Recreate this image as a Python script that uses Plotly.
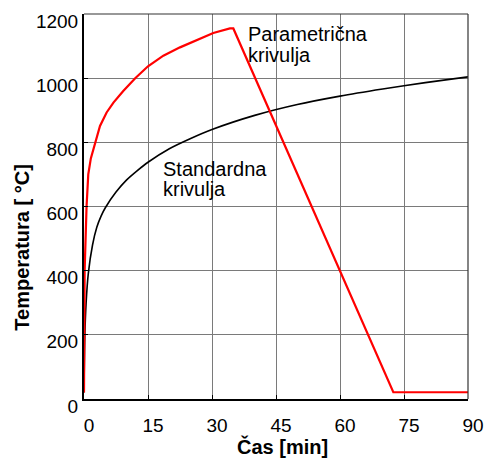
import plotly.graph_objects as go

# Data
t_param = [0, 0.05, 0.15, 0.6, 1.0, 1.6, 2.2, 3.0, 3.75, 5.3, 6.9, 9.2, 12.0, 15.0, 18.6, 22.5, 26.4, 30.3, 34.2, 35.0, 72.5, 90]
T_param = [20, 200, 400, 600, 700, 750, 778, 820, 851, 893, 924, 960, 1000, 1037, 1070, 1096, 1119, 1141, 1155, 1155, 21, 21]

t_std = [0, 0.2, 0.5, 1, 2, 3, 4, 5, 7.5, 10, 12.5, 15, 20, 25, 30, 40, 50, 60, 70, 80, 90]
T_std = [20, 200, 300, 390, 480, 535, 570, 596, 645, 683, 712, 738, 780, 812, 840, 884, 918, 944, 966, 986, 1004]

x_ticks = [0, 15, 30, 45, 60, 75, 90]
y_ticks = [0, 200, 400, 600, 800, 1000, 1200]

label_param = ["Parametrična", "krivulja"]
label_std = ["Standardna", "krivulja"]

FONT = "Liberation Sans, Arial, sans-serif"

fig = go.Figure()
fig.add_trace(go.Scatter(x=t_std, y=T_std, mode="lines",
                         line=dict(color="black", width=1.6, shape="spline", smoothing=0.8),
                         hoverinfo="skip"))
fig.add_trace(go.Scatter(x=t_param, y=T_param, mode="lines",
                         line=dict(color="#ff0000", width=2.2), hoverinfo="skip"))

fig.update_layout(
    width=484, height=459,
    margin=dict(l=84, r=16, t=14, b=60),
    plot_bgcolor="white", paper_bgcolor="white",
    showlegend=False,
    font=dict(family=FONT, color="black"),
)

fig.update_xaxes(range=[0, 90], tickvals=x_ticks, ticktext=[str(v) for v in x_ticks],
                 showgrid=True, gridcolor="#7a7a7a", gridwidth=1,
                 showline=True, linecolor="black", linewidth=2,
                 ticks="inside", ticklen=4, tickcolor="black",
                 tickfont=dict(size=19, family=FONT, color="black"),
                 zeroline=False, ticklabelshift=5, ticklabelstandoff=8,
                 automargin=False)
fig.update_yaxes(range=[0, 1200], tickvals=y_ticks, ticktext=[str(v) for v in y_ticks],
                 showgrid=True, gridcolor="#7a7a7a", gridwidth=1,
                 showline=True, linecolor="black", linewidth=2,
                 ticks="inside", ticklen=4, tickcolor="black",
                 tickfont=dict(size=19, family=FONT, color="black"),
                 zeroline=False, ticklabelshift=7, ticklabelstandoff=0,
                 automargin=False)

# top / right frame
fig.add_shape(type="line", xref="paper", yref="paper", x0=0, x1=1, y0=1, y1=1,
              line=dict(color="#333333", width=1.2))
fig.add_shape(type="line", xref="paper", yref="paper", x0=1, x1=1, y0=0, y1=1,
              line=dict(color="#333333", width=1.2))

# axis titles
fig.add_annotation(text="<b>Čas [min]</b>", xref="paper", yref="paper",
                   x=0.518, y=-0.124, xanchor="center", yanchor="middle",
                   showarrow=False, font=dict(size=20, family=FONT, color="black"))
fig.add_annotation(text="<b>Temperatura [ °C]</b>", xref="paper", yref="paper",
                   x=-0.162, y=0.395, xanchor="center", yanchor="middle", textangle=-90,
                   showarrow=False, font=dict(size=20, family=FONT, color="black"))

# curve labels
for i, line in enumerate(label_param):
    fig.add_annotation(text=line, xref="paper", yref="paper",
                       x=(246 - 84) / 384, y=(399 - 34 - 21 * i) / 385,
                       xanchor="left", yanchor="middle", showarrow=False,
                       font=dict(size=20, family=FONT, color="black"))
for i, line in enumerate(label_std):
    fig.add_annotation(text=line, xref="paper", yref="paper",
                       x=(161 - 84) / 384, y=(399 - 169 - 20 * i) / 385,
                       xanchor="left", yanchor="middle", showarrow=False,
                       font=dict(size=20, family=FONT, color="black"))

fig.write_html("out.html", config={"displayModeBar": False},
               post_script="document.body.style.margin='0';document.body.style.padding='0';")
